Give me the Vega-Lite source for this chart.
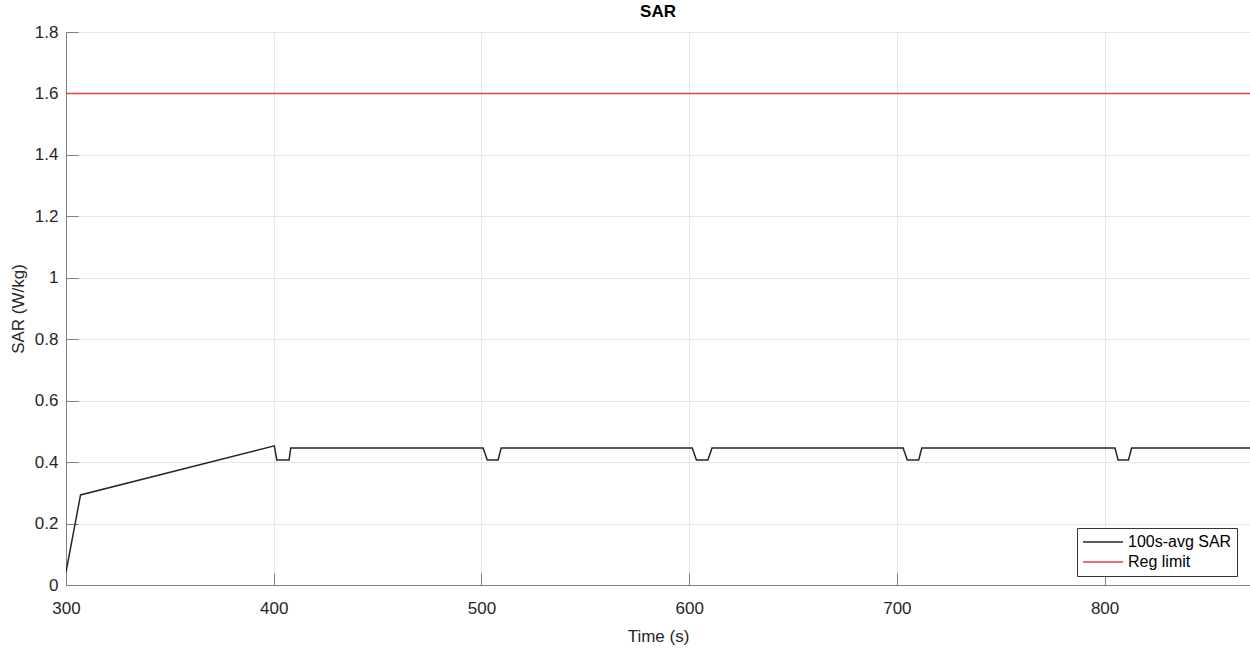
{
  "$schema": "https://vega.github.io/schema/vega-lite/v6.json",
  "width": 1184,
  "height": 553,
  "autosize": {"type": "none"},
  "padding": {"left": 66, "top": 32, "right": 0, "bottom": 63},
  "background": "white",
  "title": {"text": "SAR", "fontSize": 17, "font": "Liberation Sans", "fontWeight": "bold", "color": "#000000", "offset": 2, "anchor": "middle"},
  "config": {
    "view": {"stroke": null},
    "font": "Liberation Sans"
  },
  "data": {
    "values": [
      {"t": 300, "v": 0.042, "s": "100s-avg SAR"},
      {"t": 307, "v": 0.293, "s": "100s-avg SAR"},
      {"t": 400.3, "v": 0.453, "s": "100s-avg SAR"},
      {"t": 401.5, "v": 0.407, "s": "100s-avg SAR"},
      {"t": 407.4, "v": 0.407, "s": "100s-avg SAR"},
      {"t": 408.2, "v": 0.446, "s": "100s-avg SAR"},
      {"t": 500.8, "v": 0.446, "s": "100s-avg SAR"},
      {"t": 502.8, "v": 0.407, "s": "100s-avg SAR"},
      {"t": 508, "v": 0.407, "s": "100s-avg SAR"},
      {"t": 509.5, "v": 0.446, "s": "100s-avg SAR"},
      {"t": 601.5, "v": 0.446, "s": "100s-avg SAR"},
      {"t": 603.5, "v": 0.407, "s": "100s-avg SAR"},
      {"t": 609, "v": 0.407, "s": "100s-avg SAR"},
      {"t": 611, "v": 0.446, "s": "100s-avg SAR"},
      {"t": 703, "v": 0.446, "s": "100s-avg SAR"},
      {"t": 705, "v": 0.407, "s": "100s-avg SAR"},
      {"t": 710.5, "v": 0.407, "s": "100s-avg SAR"},
      {"t": 712, "v": 0.446, "s": "100s-avg SAR"},
      {"t": 805, "v": 0.446, "s": "100s-avg SAR"},
      {"t": 806.5, "v": 0.407, "s": "100s-avg SAR"},
      {"t": 811.5, "v": 0.407, "s": "100s-avg SAR"},
      {"t": 813, "v": 0.446, "s": "100s-avg SAR"},
      {"t": 870, "v": 0.446, "s": "100s-avg SAR"},
      {"t": 300, "v": 1.6, "s": "Reg limit"},
      {"t": 870, "v": 1.6, "s": "Reg limit"}
    ]
  },
  "mark": {"type": "line", "strokeWidth": 1.5, "clip": true},
  "encoding": {
    "x": {
      "field": "t", "type": "quantitative",
      "scale": {"domain": [300, 870], "nice": false, "zero": false},
      "axis": {
        "title": "Time (s)", "values": [300, 400, 500, 600, 700, 800], "format": "d",
        "grid": true, "gridColor": "#e6e6e6", "gridWidth": 1,
        "domainColor": "#808080", "domainWidth": 1,
        "tickColor": "#808080", "tickSize": -12, "tickWidth": 1,
        "labelFontSize": 17, "labelColor": "#262626", "labelPadding": 27, "labelFlush": false,
        "titleFontSize": 17, "titleColor": "#262626", "titleFontWeight": "normal",
        "titleY": 51, "titleBaseline": "middle"
      }
    },
    "y": {
      "field": "v", "type": "quantitative",
      "scale": {"domain": [0, 1.8], "nice": false},
      "axis": {
        "title": "SAR (W/kg)", "values": [0, 0.2, 0.4, 0.6, 0.8, 1, 1.2, 1.4, 1.6, 1.8], "format": "~g",
        "grid": true, "gridColor": "#e6e6e6", "gridWidth": 1,
        "domainColor": "#808080", "domainWidth": 1,
        "tickColor": "#808080", "tickSize": -12, "tickWidth": 1,
        "labelFontSize": 17, "labelColor": "#262626", "labelPadding": 20, "labelFlush": false,
        "titleFontSize": 17, "titleColor": "#262626", "titleFontWeight": "normal",
        "titleX": -48, "titleBaseline": "middle"
      }
    },
    "color": {
      "field": "s", "type": "nominal",
      "scale": {"domain": ["100s-avg SAR", "Reg limit"], "range": ["#262626", "#e5423d"]},
      "legend": {
        "title": null, "orient": "none", "legendX": 1011, "legendY": 496,
        "symbolType": "stroke", "symbolSize": 1600, "symbolStrokeWidth": 1.5,
        "clipHeight": 18,
        "labelFontSize": 16, "labelColor": "#000000", "labelOffset": 4,
        "padding": 5, "rowPadding": 2, "strokeColor": "#333333", "fillColor": "white",
        "labelLimit": 300
      }
    }
  }
}
